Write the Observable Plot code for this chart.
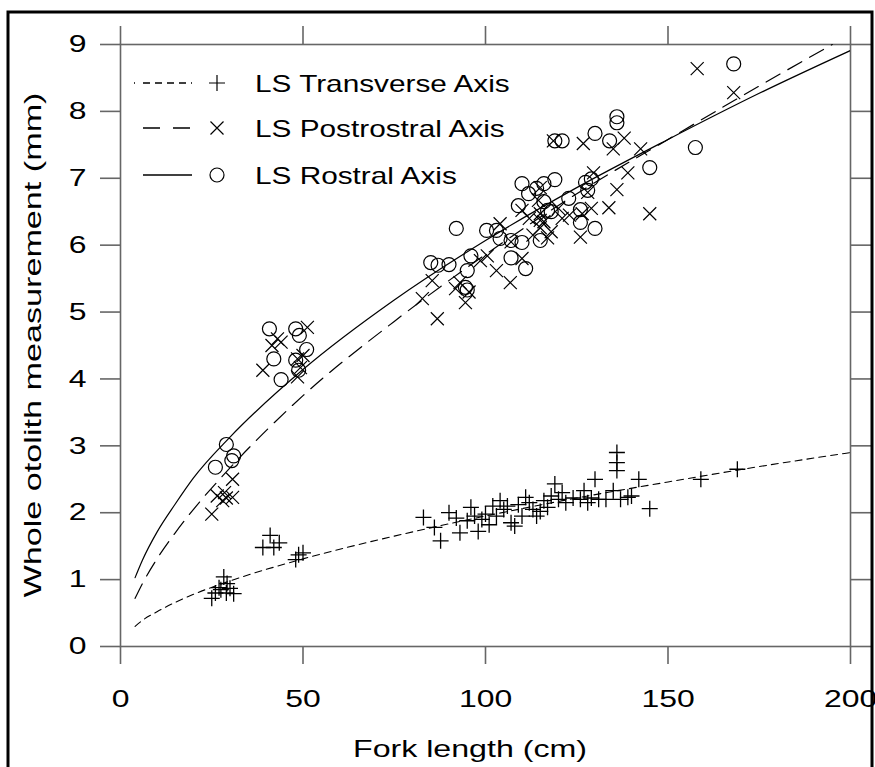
<!DOCTYPE html>
<html><head><meta charset="utf-8">
<script src="https://cdn.jsdelivr.net/npm/d3@7"></script>
<script src="https://cdn.jsdelivr.net/npm/@observablehq/plot@0.6"></script>
<style>
html,body{margin:0;padding:0;background:#fff;}
#chart{position:relative;width:875px;height:767px;overflow:hidden;background:#fff;}
</style></head><body><div id="chart"></div>
<script>
// ---- data ----
const xTicks = [0, 50, 100, 150, 200];
const yTicks = [0, 1, 2, 3, 4, 5, 6, 7, 8, 9];
const seriesNames = ["LS Transverse Axis", "LS Postrostral Axis", "LS Rostral Axis"];
const xTitle = "Fork length (cm)";
const yTitle = "Whole otolith measurement (mm)";

// fitted curves
const fitX = [4, 6, 10, 15, 20, 30, 50, 75, 100, 125, 150, 175, 200];
const transverseFit = [0.30, 0.39, 0.52, 0.66, 0.78, 0.98, 1.31, 1.65, 1.95, 2.22, 2.46, 2.69, 2.90];
const postFitX = [4, 6, 10, 15, 20, 30, 50, 75, 100, 125, 150, 175, 195];
const postrostralFit = [0.72, 0.94, 1.31, 1.70, 2.05, 2.67, 3.75, 4.86, 5.86, 6.77, 7.58, 8.38, 9.0];
const rostralFit = [1.03, 1.29, 1.71, 2.13, 2.52, 3.13, 4.14, 5.18, 6.07, 6.86, 7.58, 8.27, 8.91];

// observations [fork length, measurement]
const transverse = [
  [25,0.72],[26,0.8],[27,0.88],[28.3,1.04],[27.5,0.85],[29.2,0.94],[30,0.87],[31,0.79],[29,0.8],
  [39,1.48],[41,1.66],[42,1.48],[43.5,1.55],[48,1.3],[48.8,1.37],[50,1.4],
  [83,1.93],[86,1.78],[87.7,1.58],[90,2.0],[92,1.92],[93,1.7],[95,1.88],[96,2.08],[97,1.95],[98,1.72],
  [99,1.9],[100,1.98],[101,1.82],[102,2.1],[103,1.95],[104,2.18],[105,2.05],[106,2.1],[107,1.85],
  [108,1.8],[109,2.12],[110,1.95],[111,2.23],[112,2.15],[113,2.05],[114,1.95],[115,2.02],[116,2.18],
  [117,2.08],[118,2.25],[119,2.43],[120,2.2],[121,2.3],[122,2.15],[124,2.22],[126,2.2],[127,2.33],
  [128,2.15],[129,2.22],[130,2.5],[131,2.2],[133,2.2],[135,2.33],[136,2.9],[136,2.75],[136,2.63],
  [137,2.2],[139,2.23],[140,2.25],[142,2.5],[145,2.06],[159,2.5],[169,2.65]
];
const postrostral = [
  [25,1.98],[26.5,2.25],[28,2.18],[29,2.22],[30.7,2.5],[30.7,2.23],[28.5,2.3],
  [39,4.13],[41.5,4.5],[43,4.6],[44,4.55],[48.5,4.03],[48.5,4.3],[49.3,4.17],[50,4.35],[51.2,4.77],
  [82.7,5.2],[85.4,5.47],[86.8,4.9],[91.8,5.35],[93,5.44],[94.5,5.14],[95.5,5.3],[98.6,5.77],[100.5,5.84],
  [103,5.62],[104,6.32],[106.8,5.44],[107,6.05],[110,5.8],[110,6.52],[112,6.4],[113,6.15],[114.5,6.67],
  [115,6.86],[115,6.47],[115,6.37],[115,6.26],[116,6.35],[117,6.11],[118,6.2],[120,6.55],[121,6.4],
  [123,6.45],[126,6.12],[126.5,6.47],[128,6.79],[129,6.55],[129.6,7.08],[126.8,7.52],[118.6,7.56],
  [133.8,6.56],[135,7.44],[136,6.83],[138,7.6],[139,7.08],[142.5,7.44],[145,6.47],[158,8.64],[168,8.28]
];
const rostral = [
  [26,2.68],[29,3.02],[30.5,2.78],[31,2.85],
  [40.8,4.75],[42,4.3],[44,3.99],[48,4.75],[49,4.65],[51,4.44],[48,4.28],[48.8,4.13],
  [85,5.74],[87,5.7],[90,5.71],[92,6.25],[94.5,5.37],[95,5.33],[95,5.62],[96,5.84],[100.3,6.22],
  [103,6.22],[104,6.1],[107,6.07],[107,5.81],[110,6.04],[111,5.65],[109,6.59],[110,6.92],[111.8,6.77],
  [114,6.85],[115,6.07],[116,6.92],[116,6.65],[117,6.52],[118,6.5],[119,6.98],[122.8,6.7],[126,6.53],
  [126,6.34],[127.4,6.94],[128,6.82],[129,6.99],[130,6.25],[119,7.56],[121,7.56],[130,7.67],[134,7.56],
  [136,7.83],[136,7.92],[145,7.16],[157.5,7.46],[168,8.71]
];

// ---- styles ----
const AXIS = "#666";
const plusSym = {draw(ctx, size){const r = Math.sqrt(size/Math.PI); ctx.moveTo(-r,0); ctx.lineTo(r,0); ctx.moveTo(0,-r); ctx.lineTo(0,r);}};
const timesSym = {draw(ctx, size){const r = Math.sqrt(size/Math.PI); ctx.moveTo(-r,-r); ctx.lineTo(r,r); ctx.moveTo(-r,r); ctx.lineTo(r,-r);}};

const tFit = fitX.map((x,i)=>({x, y: transverseFit[i]}));
const pFit = postFitX.map((x,i)=>({x, y: postrostralFit[i]}));
const rFit = fitX.map((x,i)=>({x, y: rostralFit[i]}));

const svg = Plot.plot({
  width: 875, height: 767,
  marginLeft: 120, marginRight: 25, marginTop: 44, marginBottom: 121,
  style: {fontFamily: "'Liberation Sans', Arial, sans-serif", fontSize: "24px", color: "black", background: "white"},
  x: {domain: [0, 200]},
  y: {domain: [0, 9]},
  marks: [
    Plot.frame({stroke: AXIS, strokeWidth: 1.6}),
    Plot.axisX({anchor: "bottom", ticks: xTicks, tickSize: 18, tickPadding: 25, stroke: AXIS, strokeWidth: 1.6, label: null, fontSize: 24}),
    Plot.axisX({anchor: "top", ticks: xTicks, tickSize: 19, tickFormat: () => "", stroke: AXIS, strokeWidth: 1.6, label: null}),
    Plot.axisY({anchor: "left", ticks: yTicks, tickSize: 20, tickPadding: 14, stroke: AXIS, strokeWidth: 1.6, label: null, fontSize: 24}),
    Plot.axisY({anchor: "right", ticks: yTicks, tickSize: 20, tickFormat: () => "", stroke: AXIS, strokeWidth: 1.6, label: null}),
    Plot.line(tFit, {x: "x", y: "y", stroke: "black", strokeWidth: 1.1, strokeDasharray: "7,5", curve: "monotone-x", clip: true}),
    Plot.line(pFit, {x: "x", y: "y", stroke: "black", strokeWidth: 1.2, strokeDasharray: "16,9", curve: "monotone-x", clip: true}),
    Plot.line(rFit, {x: "x", y: "y", stroke: "black", strokeWidth: 1.2, curve: "monotone-x", clip: true}),
    Plot.dot(transverse, {x: d => d[0], y: d => d[1], symbol: plusSym, r: 8, stroke: "black", fill: "none", strokeWidth: 1.3}),
    Plot.dot(postrostral, {x: d => d[0], y: d => d[1], symbol: timesSym, r: 6.5, stroke: "black", fill: "none", strokeWidth: 1.2}),
    Plot.dot(rostral, {x: d => d[0], y: d => d[1], symbol: "circle", r: 7, stroke: "black", fill: "none", strokeWidth: 1.2})
  ]
});
document.getElementById("chart").appendChild(svg);

const root = d3.select(svg);
// widen tick label glyphs like the reference
root.selectAll("text").each(function(){
  const L = this.getComputedTextLength();
  if (L > 0) { this.setAttribute("textLength", L * 1.33); this.setAttribute("lengthAdjust", "spacingAndGlyphs"); }
});

const FONT = "'Liberation Sans', Arial, sans-serif";
// axis titles
root.append("text").text(xTitle)
  .attr("x", 470).attr("y", 757).attr("text-anchor", "middle")
  .attr("font-family", FONT).attr("font-size", 24).attr("fill", "black")
  .attr("textLength", 234).attr("lengthAdjust", "spacingAndGlyphs");
root.append("text").text(yTitle)
  .attr("transform", "translate(41,345) rotate(-90)").attr("text-anchor", "middle")
  .attr("font-family", FONT).attr("font-size", 24).attr("fill", "black")
  .attr("textLength", 505).attr("lengthAdjust", "spacingAndGlyphs");

// legend
const legend = root.append("g");
const rows = [83, 128, 175];
const syms = [plusSym, timesSym, d3.symbolCircle];
const symR = [8, 6.5, 7];
seriesNames.forEach((name, i) => {
  const y = rows[i];
  const ln = legend.append("line").attr("x1", i === 0 ? 134 : 143).attr("x2", 192).attr("y1", y).attr("y2", y)
    .attr("stroke", "black").attr("stroke-width", i === 1 ? 1.6 : 1.3);
  if (i === 0) ln.attr("stroke-dasharray", "1,8,7,5,7,5,7,5,7,5");
  if (i === 1) ln.attr("stroke-dasharray", "17,13");
  legend.append("path").attr("d", d3.symbol(syms[i], Math.PI * symR[i] * symR[i])())
    .attr("transform", `translate(217,${y})`).attr("fill", "none").attr("stroke", "black").attr("stroke-width", 1.2);
  const t = legend.append("text").text(name).attr("x", 255).attr("y", y).attr("dy", "0.36em")
    .attr("text-anchor", "start")
    .attr("font-family", FONT).attr("font-size", 24).attr("fill", "black");
  const L = t.node().getComputedTextLength();
  t.attr("textLength", L * 1.24).attr("lengthAdjust", "spacingAndGlyphs");
});

// outer border
root.append("rect").attr("x", 8).attr("y", 12).attr("width", 864).attr("height", 800)
  .attr("fill", "none").attr("stroke", "black").attr("stroke-width", 3);
</script></body></html>
